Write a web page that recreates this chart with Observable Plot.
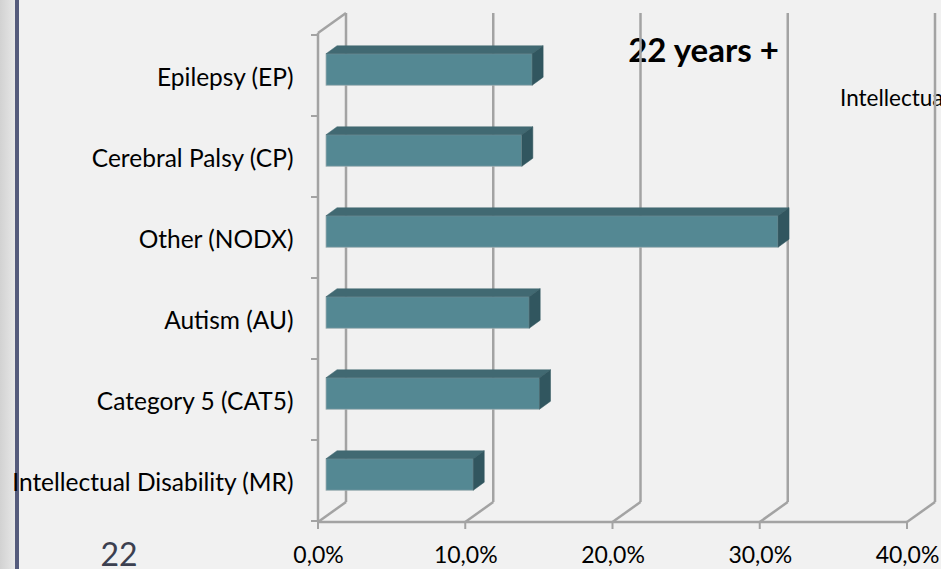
<!DOCTYPE html>
<html><head><meta charset="utf-8">
<script src="https://cdn.jsdelivr.net/npm/d3@7"></script>
<script src="https://cdn.jsdelivr.net/npm/@observablehq/plot@0.6"></script>
<style>
html,body{margin:0;padding:0;background:#f1f1f1;overflow:hidden;width:941px;height:569px}
#chart svg{display:block}
</style></head><body><div id="chart"></div>
<script>
// ---- data ----
const categories = ["Epilepsy (EP)", "Cerebral Palsy (CP)", "Other (NODX)", "Autism (AU)", "Category 5 (CAT5)", "Intellectual Disability (MR)"];
const shares = [0.140, 0.133, 0.307, 0.138, 0.145, 0.100];
const xTicks = [0, 0.1, 0.2, 0.3, 0.4];
const chartTitle = "22 years +";
const legendLabels = ["Intellectual Disability (MR)"];
const pageNumber = "22";

const data = categories.map((category, i) => ({category, share: shares[i]}));

// ---- style ----
const FONT = "Lato, 'Open Sans', sans-serif";
const GRID = "#a3a3a3";
const WALL_DX = 28, WALL_DY = -20;      // depth of the back wall
const BAR_DX = 8, BAR_DY = -6;          // front face of bars inside the depth
const BAR_DEPTH_X = 11, BAR_DEPTH_Y = -8;
const BAR_INSET = 24.75;
const FRONT = "#548893", TOP = "#416972", SIDE = "#31565f";
const fmt = d => (d * 100).toFixed(1).replace(".", ",") + "%";

function add(parent, tag, attrs, text) {
  const el = parent.append(tag);
  for (const k in attrs) el.attr(k, attrs[k]);
  if (text != null) el.text(text);
  return el;
}

// texts and slide decoration (behind gridlines)
function backdrop(index, scales, values, dims) {
  const g = d3.create("svg:g");
  const defs = g.append("defs");
  const lg = add(defs, "linearGradient", {id: "strip", x1: 0, x2: 1, y1: 0, y2: 0});
  add(lg, "stop", {offset: 0, "stop-color": "#d2d2d2"});
  add(lg, "stop", {offset: 1, "stop-color": "#e7e7e7"});
  add(g, "rect", {x: 0, y: 0, width: 15, height: dims.height, fill: "url(#strip)"});
  add(g, "rect", {x: 15, y: 0, width: 4, height: dims.height, fill: "#555b7c"});
  add(g, "text", {x: 119, y: 566, "text-anchor": "middle", "font-size": 32, fill: "#3c4050", "font-family": FONT}, pageNumber);
  add(g, "text", {x: 703.5, y: 62, "text-anchor": "middle", "font-size": 33, "font-weight": "bold", fill: "#000", "font-family": FONT}, chartTitle);
  legendLabels.forEach((t, i) => add(g, "text", {x: 840, y: 106 + i * 40, "text-anchor": "start", "font-size": 22.5, fill: "#000", "font-family": FONT}, t));
  return g.node();
}

// 3D walls and gridlines
function walls(index, scales, values, dims) {
  const x = scales.x, y = scales.y;
  const g = d3.create("svg:g").attr("stroke", GRID).attr("fill", "none").attr("stroke-width", 2.5);
  const top = dims.marginTop, bottom = dims.height - dims.marginBottom;
  const left = x(0);
  for (const t of xTicks) {
    const xf = x(t);
    add(g, "line", {x1: xf + WALL_DX, x2: xf + WALL_DX, y1: top + WALL_DY, y2: bottom + WALL_DY});
    add(g, "line", {x1: xf, x2: xf + WALL_DX, y1: bottom, y2: bottom + WALL_DY});
    add(g, "line", {x1: xf, x2: xf, y1: bottom, y2: bottom + 7, "stroke-width": 2});
  }
  add(g, "line", {x1: left, x2: x(xTicks[xTicks.length - 1]), y1: bottom, y2: bottom});
  add(g, "line", {x1: left, x2: left, y1: top, y2: bottom});
  add(g, "line", {x1: left, x2: left + WALL_DX, y1: top, y2: top + WALL_DY});
  const bounds = categories.map(c => y(c)).concat([y(categories[categories.length - 1]) + y.bandwidth()]);
  for (const b of bounds) add(g, "line", {x1: left - 7, x2: left, y1: b, y2: b, "stroke-width": 2});
  return g.node();
}

// top and side faces of bars
function barFaces(index, scales, values, dims) {
  const x = scales.x, y = scales.y;
  const g = d3.create("svg:g");
  for (const d of data) {
    const x0 = x(0) + BAR_DX, x1 = x(d.share) + BAR_DX;
    const yt = y(d.category) + BAR_INSET + BAR_DY;
    const yb = y(d.category) + y.bandwidth() - BAR_INSET + BAR_DY;
    add(g, "path", {d: `M${x0},${yt}L${x1},${yt}L${x1 + BAR_DEPTH_X},${yt + BAR_DEPTH_Y}L${x0 + BAR_DEPTH_X},${yt + BAR_DEPTH_Y}Z`, fill: TOP, stroke: TOP, "stroke-width": 0.5});
    add(g, "path", {d: `M${x1},${yt}L${x1 + BAR_DEPTH_X},${yt + BAR_DEPTH_Y}L${x1 + BAR_DEPTH_X},${yb + BAR_DEPTH_Y}L${x1},${yb}Z`, fill: SIDE, stroke: SIDE, "stroke-width": 0.5});
  }
  return g.node();
}

const plot = Plot.plot({
  width: 941,
  height: 569,
  marginLeft: 318,
  marginRight: 34,
  marginTop: 33,
  marginBottom: 47,
  style: {background: "#f1f1f1", fontFamily: FONT, fontSize: "23px", color: "#000", overflow: "hidden"},
  x: {domain: [0, 0.4], label: null},
  y: {domain: categories, padding: 0, label: null},
  marks: [
    backdrop,
    walls,
    Plot.barX(data, {x: "share", y: "category", fill: FRONT, dx: BAR_DX, dy: BAR_DY, insetTop: BAR_INSET, insetBottom: BAR_INSET, stroke: "#9fb0b3", strokeWidth: 0.8}),
    barFaces,
    Plot.axisX({ticks: xTicks, tickFormat: fmt, tickSize: 0, tickPadding: 24, fill: "#000", fontSize: 23, label: null}),
    Plot.axisY({tickSize: 0, tickPadding: 25, fill: "#000", dy: 2, fontSize: 24.5, label: null})
  ]
});
document.getElementById("chart").append(plot);
</script>
</body></html>
